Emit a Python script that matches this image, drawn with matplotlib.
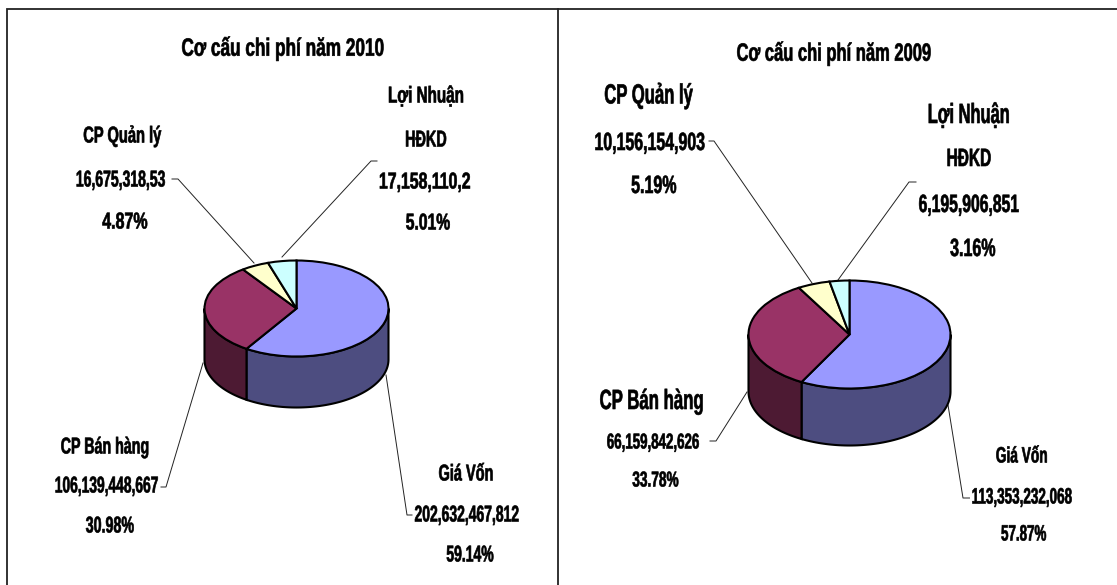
import numpy as np
import matplotlib
matplotlib.use("Agg")
import matplotlib.pyplot as plt
from matplotlib.patches import Polygon
from matplotlib.patheffects import AbstractPathEffect
from matplotlib.transforms import Affine2D

FONT = ['Liberation Sans', 'DejaVu Sans']
plt.rcParams['font.family'] = FONT
plt.rcParams['font.weight'] = 'bold'

categories = ['Giá Vốn', 'CP Bán hàng', 'CP Quản lý', 'Lợi Nhuận HĐKD']
values_2010 = [202632467812, 106139448667, 16675318530, 17158110200]
values_2009 = [113353232068, 66159842626, 10156154903, 6195906851]
title_2010 = 'Cơ cấu chi phí năm 2010'
title_2009 = 'Cơ cấu chi phí năm 2009'
top_colors = ['#9999FF', '#993366', '#FFFFCC', '#CCFFFF']
side_colors = ['#4D4D80', '#4D1A33', '#808066', '#668080']

W, H = 1117, 585
fig = plt.figure(figsize=(W / 100, H / 100), dpi=100, facecolor='white')
bg = fig.add_axes([0, 0, 1, 1])
bg.set_xlim(0, W)
bg.set_ylim(H, 0)
bg.axis('off')


class Squeeze(AbstractPathEffect):
    """Condense a text run horizontally to a given pixel width, around its middle."""

    def __init__(self, width_px):
        super().__init__()
        self.width_px = width_px

    def draw_path(self, renderer, gc, tpath, affine, rgbFace=None):
        xs = tpath.vertices[:, 0]
        lo, hi = xs.min(), xs.max()
        mid = (lo + hi) / 2
        cur = (hi - lo) * abs(affine.get_matrix()[0, 0])
        sx = self.width_px / cur
        squeezed = Affine2D().translate(-mid, 0).scale(sx, 1).translate(mid, 0) + affine
        gc0 = renderer.new_gc()
        gc0.copy_properties(gc)
        gc0.set_foreground('black')
        gc0.set_linewidth(0.45)
        renderer.draw_path(gc0, tpath, squeezed, rgbFace)
        gc0.restore()


# frame
bg.plot([7, 7, 1117], [585, 8.5, 8.5], color='#222222', lw=1.3, solid_joinstyle='miter')
bg.plot([557.5, 557.5], [8.5, 585], color='#222222', lw=1.3)


def pie3d(values, cx, cy, rx, ry, depth):
    ax = fig.add_axes([(cx - rx * 1.1) / W, 1 - (cy + ry * 1.1 + depth) / H,
                       2.2 * rx / W, (2.2 * ry + depth) / H])
    ax.axis('off')
    d = depth / ry
    frac = np.array(values, float) / sum(values)
    edges = 90 - 360 * np.concatenate([[0], np.cumsum(frac)])
    for i in range(len(values)):
        a0, a1 = edges[i + 1], edges[i]
        lo, hi = max(a0, -180), min(a1, 0)
        if lo >= hi:
            continue
        t = np.radians(np.linspace(lo, hi, 80))
        x, y = np.cos(t), np.sin(t)
        pts = np.r_[np.c_[x, y], np.c_[x[::-1], y[::-1] - d]]
        ax.add_patch(Polygon(pts, closed=True, fc=side_colors[i], ec='black', lw=1.5, zorder=1))
    ax.pie(values, colors=top_colors, startangle=90, counterclock=False,
           radius=1, frame=True,
           wedgeprops=dict(edgecolor='black', linewidth=1.5, zorder=2))
    ax.set_aspect('auto')
    ax.set_xlim(-1.1, 1.1)
    ax.set_ylim(-1.1 - d, 1.1)
    ax.axis('off')


pie3d(values_2010, 296.5, 308.5, 92, 48, 51)
pie3d(values_2009, 849.5, 334.5, 101, 54, 57)


def txt(x, y, s, size, width):
    bg.text(x, y, s, ha='center', va='center', fontsize=size, fontweight='bold',
            color='black', family=FONT, path_effects=[Squeeze(width)])


def lead(xs, ys):
    bg.plot(xs, ys, color='#222222', lw=0.7)


# left panel
for x, y, s, z, w in [
    (283, 48, title_2010, 18, 202),
    (426, 96, 'Lợi Nhuận', 16.5, 75), (426, 140, 'HĐKD', 16.5, 41),
    (425, 182, '17,158,110,2', 16.5, 91), (428, 223, '5.01%', 16.5, 44),
    (122, 136, 'CP Quản lý', 16.5, 78), (121, 180, '16,675,318,53', 16.5, 89), (125, 222, '4.87%', 16.5, 45),
    (105, 447, 'CP Bán hàng', 16.5, 87.5), (107, 486, '106,139,448,667', 16.5, 103), (110, 526, '30.98%', 16.5, 48),
    (466, 474, 'Giá Vốn', 16.5, 54), (467, 515, '202,632,467,812', 16.5, 104), (470, 555, '59.14%', 16.5, 47),
]:
    txt(x, y, s, z, w)
lead([172, 178, 254], [179, 179, 263])
lead([377, 371, 282], [161, 161, 257])
lead([161, 166, 203], [487, 487, 363])
lead([412, 407, 386], [515, 515, 375])

# right panel
for x, y, s, z, w in [
    (834, 53, title_2009, 18, 194),
    (648.5, 96, 'CP Quản lý', 20, 88.5), (650, 143, '10,156,154,903', 18, 110), (654, 186, '5.19%', 18, 45),
    (969, 116, 'Lợi Nhuận', 20, 81), (969, 159, 'HĐKD', 18, 44), (969, 205, '6,195,906,851', 18, 100), (973, 249, '3.16%', 18, 45),
    (652, 402, 'CP Bán hàng', 20, 103), (653, 443, '66,159,842,626', 15.5, 92), (655.5, 481, '33.78%', 15.5, 46),
    (1022, 457, 'Giá Vốn', 16, 51), (1022, 498, '113,353,232,068', 16, 100), (1024, 535, '57.87%', 16, 45),
]:
    txt(x, y, s, z, w)
lead([709, 714, 812], [141, 141, 283])
lead([916, 909, 838], [182, 182, 280])
lead([710, 716, 747], [441, 441, 392])
lead([969.5, 963, 948], [498, 498, 405])

fig.savefig('out.png', dpi=100, facecolor='white')
